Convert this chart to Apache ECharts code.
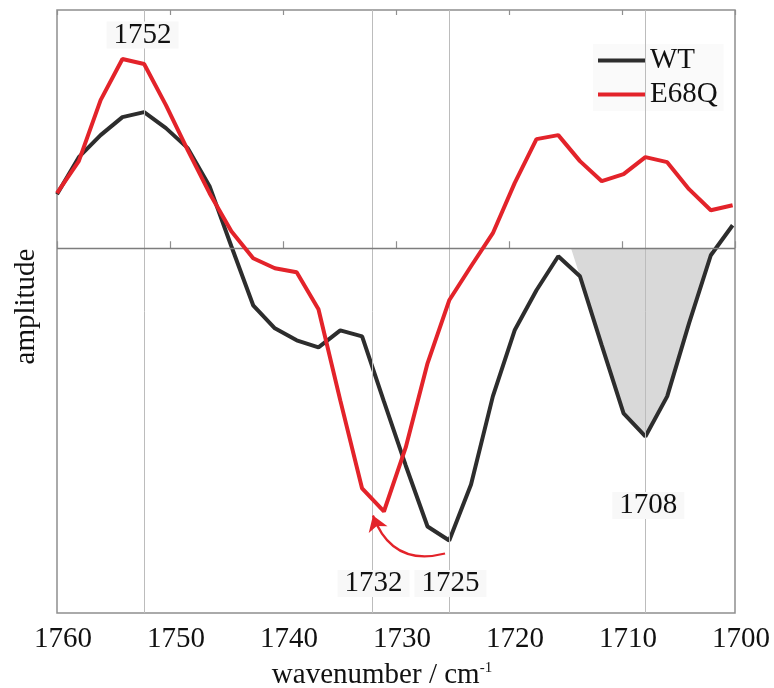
<!DOCTYPE html>
<html>
<head>
<meta charset="utf-8">
<script src="https://cdn.jsdelivr.net/npm/echarts@6/dist/echarts.min.js"></script>
<style>
  html, body { margin: 0; padding: 0; background: #ffffff; }
  #chart { width: 774px; height: 688px; }
</style>
</head>
<body>
<div id="chart"></div>
<script>
// Difference spectra, wavenumber axis in cm^-1 (runs high to low)
const wavenumber = [
  1760.00, 1758.07, 1756.14, 1754.21, 1752.29, 1750.36, 1748.43, 1746.50,
  1744.57, 1742.64, 1740.72, 1738.79, 1736.86, 1734.93, 1733.00, 1731.07,
  1729.14, 1727.21, 1725.29, 1723.36, 1721.43, 1719.50, 1717.57, 1715.64,
  1713.72, 1711.79, 1709.86, 1707.93, 1706.00, 1704.07, 1702.14, 1700.21
];
const wtAmplitude = [
  0.54, 0.91, 1.13, 1.31, 1.36, 1.20, 1.00, 0.62,
  0.02, -0.57, -0.80, -0.92, -0.99, -0.82, -0.88, -1.53,
  -2.17, -2.78, -2.92, -2.36, -1.48, -0.82, -0.42, -0.08,
  -0.28, -0.97, -1.65, -1.88, -1.48, -0.75, -0.07, 0.23
];
const e68qAmplitude = [
  0.55, 0.87, 1.48, 1.89, 1.84, 1.43, 0.98, 0.55,
  0.17, -0.10, -0.20, -0.24, -0.61, -1.52, -2.40, -2.63,
  -1.99, -1.15, -0.52, -0.18, 0.15, 0.65, 1.09, 1.13,
  0.87, 0.67, 0.74, 0.91, 0.86, 0.59, 0.38, 0.43
];
const seriesNames = ['WT', 'E68Q'];

// Shaded WT band around 1708 cm^-1 (starts on the baseline)
const bandStart = 1714.51;
const bandFirst = 24, bandLast = 30;

// Peak markers: vertical reference lines and their labels
const peakLines = [1752.29, 1732.10, 1725.29, 1707.93];
const peakLabels = ['1752', '1732', '1725', '1708'];
const peakLabelAt = [[1752.43, 2.13], [1731.99, -3.35], [1725.18, -3.35], [1707.67, -2.57]];

// Shift arrow from the WT minimum to the E68Q minimum
const shiftArrow = [[1725.66, -3.05], [1732.04, -2.67]];

const xMin = 1700, xMax = 1760, xStep = 10;
const yMin = -3.644, yMax = 2.38;

const FONT = 'Liberation Serif';
const RED = '#e3232a';
const BLACK = '#2d2d2d';
const INK = '#111111';

const pairs = (ys) => wavenumber.map((x, i) => [x, ys[i]]);

const bandData = [[bandStart, 0]];
for (let i = bandFirst; i <= bandLast; i++) bandData.push([wavenumber[i], wtAmplitude[i]]);
bandData.push([wavenumber[bandLast], 0]);

const serifText = { fontFamily: FONT, fontSize: 29, color: INK };

const chart = echarts.init(document.getElementById('chart'), null, { renderer: 'canvas' });

chart.setOption({
  animation: false,
  backgroundColor: '#ffffff',
  textStyle: { fontFamily: FONT },
  grid: {
    left: 57, right: 39, top: 10, bottom: 75,
    outerBoundsMode: 'none', containLabel: false,
    show: true, borderColor: '#8f8f8f', borderWidth: 1.5, backgroundColor: 'transparent'
  },
  legend: {
    orient: 'vertical',
    left: 593, top: 44,
    padding: [2, 6, 2, 5],
    backgroundColor: '#fafafa',
    itemGap: 5,
    itemWidth: 47, itemHeight: 4,
    icon: 'rect',
    data: seriesNames,
    textStyle: serifText
  },
  xAxis: [
    {
      type: 'value', min: xMin, max: xMax, interval: xStep, inverse: true,
      position: 'bottom',
      name: 'wavenumber / cm{sup|-1}',
      nameLocation: 'middle', nameGap: 48,
      nameTextStyle: {
        fontFamily: FONT, fontSize: 29, color: INK, padding: [0, 28, 0, 0],
        rich: { sup: { fontFamily: FONT, fontSize: 15, color: INK, verticalAlign: 'top', padding: [0, 0, 14, 0] } }
      },
      axisLine: { show: false },
      axisTick: { show: true, inside: true, length: 7, lineStyle: { color: '#8f8f8f', width: 1.2 } },
      axisLabel: {
        fontFamily: FONT, fontSize: 29, color: INK, margin: 12, padding: [0, 0, 0, 12],
        formatter: (v) => '{t|' + v + '}',
        rich: { t: serifText }
      },
      splitLine: { show: false }
    },
    {
      type: 'value', min: xMin, max: xMax, interval: xStep, inverse: true,
      position: 'top',
      axisLine: { show: false },
      axisTick: { show: true, inside: true, length: 5, lineStyle: { color: '#8f8f8f', width: 1.2 } },
      axisLabel: { show: false },
      splitLine: { show: false }
    }
  ],
  yAxis: {
    type: 'value', min: yMin, max: yMax,
    name: 'amplitude', nameLocation: 'middle', nameGap: 16, nameRotate: 90,
    nameTextStyle: { fontFamily: FONT, fontSize: 29, color: INK, padding: [0, 0, 0, 10] },
    axisLine: { show: false }, axisTick: { show: false }, axisLabel: { show: false },
    splitLine: { show: false }
  },
  series: [
    {
      // reference lines: peak positions and the zero baseline
      name: 'guides', type: 'line', data: [], z: 1, silent: true,
      markLine: {
        silent: true, symbol: 'none', animation: false,
        label: { show: false },
        data: peakLines.map(v => ({ xAxis: v, lineStyle: { color: '#bcbcbc', width: 1, type: 'solid' } }))
          .concat([{ yAxis: 0, lineStyle: { color: '#7d7d7d', width: 1.3, type: 'solid' } }])
      }
    },
    {
      name: 'band', type: 'line', data: bandData, z: 2, silent: true,
      symbol: 'none', lineStyle: { width: 0, opacity: 0 },
      areaStyle: { color: '#d9d9d9', opacity: 1, origin: 0 }
    },
    {
      name: 'WT', type: 'line', data: pairs(wtAmplitude), z: 4,
      symbol: 'none', color: BLACK,
      lineStyle: { color: BLACK, width: 4 }
    },
    {
      name: 'E68Q', type: 'line', data: pairs(e68qAmplitude), z: 5,
      symbol: 'none', color: RED,
      lineStyle: { color: RED, width: 4 }
    },
    {
      // curved arrow marking the band shift
      name: 'shift', type: 'lines', coordinateSystem: 'cartesian2d', z: 6, silent: true,
      symbol: ['none', 'arrow'], symbolSize: [11, 15],
      lineStyle: { color: RED, width: 2.2, curveness: 0.45, opacity: 1 },
      data: [{ coords: shiftArrow }]
    },
    {
      name: 'peak labels', type: 'scatter', z: 7, silent: true,
      symbolSize: 0,
      itemStyle: { opacity: 1 },
      data: peakLabelAt.map((p, i) => ({ value: p, name: peakLabels[i] })),
      label: {
        show: true, position: 'inside',
        formatter: (p) => '{t|' + p.name + '}',
        backgroundColor: '#f8f8f8', padding: [1, 7, 1, 7],
        rich: { t: Object.assign({ lineHeight: 25 }, serifText) }
      }
    }
  ]
});
</script>
</body>
</html>
